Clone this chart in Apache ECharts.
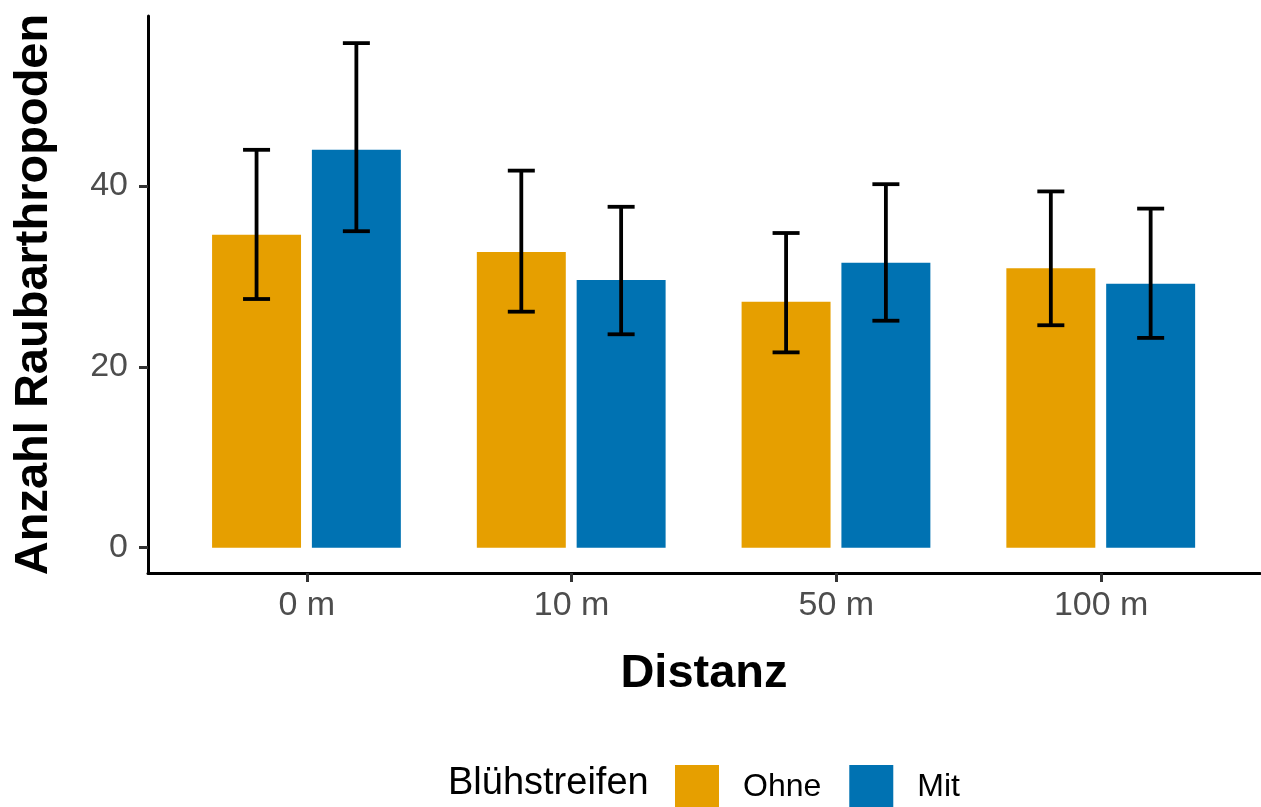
<!DOCTYPE html>
<html>
<head>
<meta charset="utf-8">
<style>
  html, body { margin: 0; padding: 0; background: #ffffff; }
  #chart { width: 1261px; height: 807px; }
</style>
<script src="https://cdn.jsdelivr.net/npm/echarts@6/dist/echarts.min.js"></script>
</head>
<body>
<div id="chart"></div>
<script>
// ---- Data ----
const categories = ['0 m', '10 m', '50 m', '100 m'];
const groups = ['Ohne', 'Mit'];
const ohneMean = [34.6, 32.7, 27.2, 30.9];
const ohneLow  = [27.5, 26.1, 21.6, 24.6];
const ohneHigh = [44.0, 41.7, 34.8, 39.4];
const mitMean  = [44.0, 29.6, 31.5, 29.2];
const mitLow   = [35.0, 23.6, 25.1, 23.2];
const mitHigh  = [55.8, 37.7, 40.2, 37.5];
const yTicks = [0, 20, 40];

const FONT = '"Liberation Sans", Arial, sans-serif';
const colors = { Ohne: '#E69F00', Mit: '#0072B2' };
const barHalf = 0.168;   // half bar width in category units
const capHalf = 0.051;   // half cap width
const dodge = { Ohne: -0.19, Mit: 0.187 };

function buildData(mean, low, high) {
  return categories.map((c, i) => [i + 1, mean[i], low[i], high[i]]);
}

function makeRender(offset) {
  return function (params, api) {
    const x = api.value(0) + offset;
    const m = api.value(1), lo = api.value(2), hi = api.value(3);
    const p0 = api.coord([x - barHalf, 0]);
    const p1 = api.coord([x + barHalf, m]);
    const c = api.coord([x, lo]);
    const h = api.coord([x, hi]);
    const cl = api.coord([x - capHalf, lo])[0];
    const cr = api.coord([x + capHalf, lo])[0];
    const lineStyle = { stroke: '#000000', lineWidth: 3.8 };
    return {
      type: 'group',
      children: [
        { type: 'rect', shape: { x: p0[0], y: p1[1], width: p1[0] - p0[0], height: p0[1] - p1[1] },
          style: { fill: api.visual('color') } },
        { type: 'line', shape: { x1: c[0], y1: c[1], x2: h[0], y2: h[1] }, style: lineStyle },
        { type: 'line', shape: { x1: cl, y1: c[1], x2: cr, y2: c[1] }, style: lineStyle },
        { type: 'line', shape: { x1: cl, y1: h[1], x2: cr, y2: h[1] }, style: lineStyle }
      ]
    };
  };
}

const chart = echarts.init(document.getElementById('chart'), null, { renderer: 'canvas' });
chart.setOption({
  backgroundColor: '#ffffff',
  animation: false,
  textStyle: { fontFamily: FONT },
  grid: { left: 148, right: 1, top: 16, bottom: 234, containLabel: false },
  xAxis: {
    type: 'value', min: 0.4, max: 4.6,
    name: 'Distanz', nameLocation: 'middle', nameGap: 78,
    nameTextStyle: { fontSize: 47, fontWeight: 'bold', color: '#000000', fontFamily: FONT },
    axisLine: { show: true, onZero: false, lineStyle: { color: '#000000', width: 3 } },
    axisTick: { show: true, customValues: [1, 2, 3, 4], length: 9, lineStyle: { color: '#333333', width: 3 } },
    axisLabel: { customValues: [1, 2, 3, 4], margin: 16, fontSize: 34, color: '#4D4D4D', fontFamily: FONT,
      formatter: v => categories[Math.round(v) - 1] || '' },
    splitLine: { show: false }
  },
  yAxis: {
    type: 'value', min: -2.8, max: 58.8,
    name: 'Anzahl Raubarthropoden', nameLocation: 'middle', nameGap: 90,
    nameTextStyle: { fontSize: 47, fontWeight: 'bold', color: '#000000', fontFamily: FONT },
    axisLine: { show: true, lineStyle: { color: '#000000', width: 3 } },
    axisTick: { show: true, customValues: yTicks, length: 9, lineStyle: { color: '#333333', width: 3 } },
    axisLabel: { customValues: yTicks, margin: 20, fontSize: 34, color: '#4D4D4D', fontFamily: FONT },
    splitLine: { show: false }
  },
  legend: {
    data: groups,
    left: 675, top: 765,
    padding: 0,
    orient: 'horizontal',
    icon: 'rect',
    itemWidth: 44, itemHeight: 44,
    itemGap: 28,
    textStyle: { fontSize: 32, color: '#000000', fontFamily: FONT, padding: [0, 0, 6, 19] },
    selectedMode: false
  },
  graphic: [
    { type: 'text', left: 448, top: 765,
      style: { text: 'Blühstreifen', fontSize: 38, fill: '#000000', fontFamily: FONT } }
  ],
  series: [
    { type: 'custom', name: 'Ohne', color: colors.Ohne, itemStyle: { color: colors.Ohne },
      renderItem: makeRender(dodge.Ohne), data: buildData(ohneMean, ohneLow, ohneHigh),
      encode: { x: 0, y: [1, 2, 3] }, clip: false },
    { type: 'custom', name: 'Mit', color: colors.Mit, itemStyle: { color: colors.Mit },
      renderItem: makeRender(dodge.Mit), data: buildData(mitMean, mitLow, mitHigh),
      encode: { x: 0, y: [1, 2, 3] }, clip: false }
  ]
});
</script>
</body>
</html>
